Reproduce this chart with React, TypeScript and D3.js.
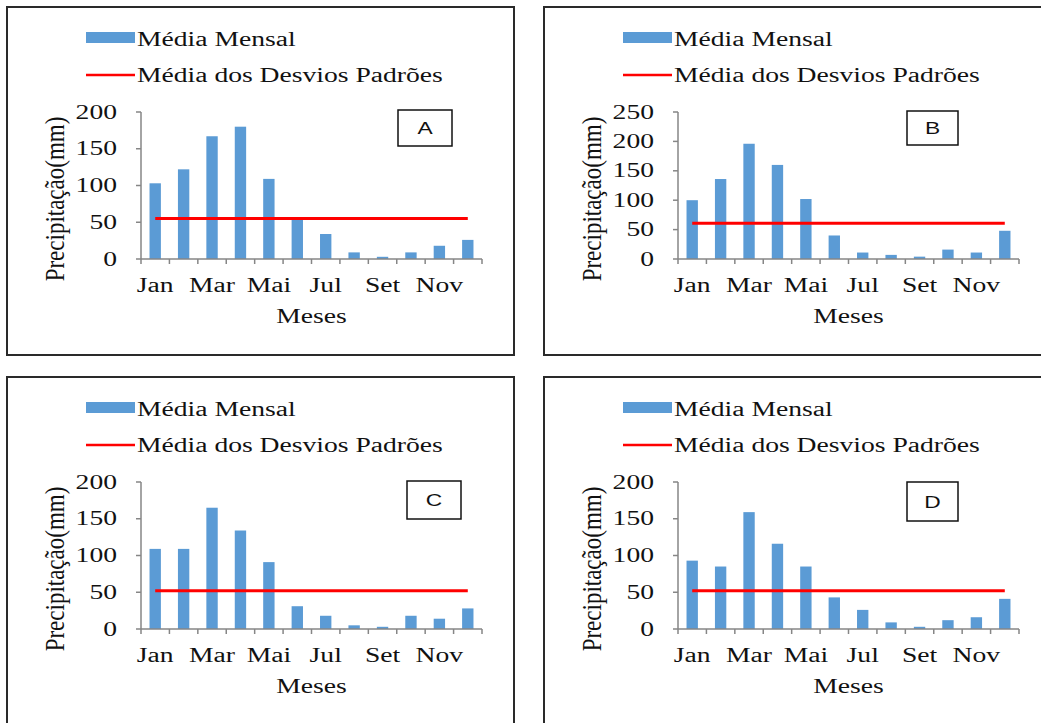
import React from "react";
import * as d3 from "d3";

// Monthly precipitation (mm) for four stations, with the mean of the standard deviations
const months = ["Jan", "Fev", "Mar", "Abr", "Mai", "Jun", "Jul", "Ago", "Set", "Out", "Nov", "Dez"];

const valuesA = [103, 122, 167, 180, 109, 55, 34, 9, 3, 9, 18, 26];
const valuesB = [100, 136, 196, 160, 102, 40, 11, 7, 4, 16, 11, 48];
const valuesC = [109, 109, 165, 134, 91, 31, 18, 5, 3, 18, 14, 28];
const valuesD = [93, 85, 159, 116, 85, 43, 26, 9, 3, 12, 16, 41];

const sdMeanA = 55;
const sdMeanB = 61;
const sdMeanC = 52;
const sdMeanD = 52;

const ticks200 = [0, 50, 100, 150, 200];
const ticks250 = [0, 50, 100, 150, 200, 250];

const shownMonths = ["Jan", "Mar", "Mai", "Jul", "Set", "Nov"];
const panelLabels = ["A", "B", "C", "D"];
const legendBars = "Média Mensal";
const legendLine = "Média dos Desvios Padrões";
const yTitle = "Precipitação(mm)";
const xTitle = "Meses";

const BAR = "#5b9bd5";
const RED = "#ff0000";
const AXIS = "#868686";
const SERIF = "Liberation Serif, Tinos, DejaVu Serif, serif";
const SANS = "Liberation Sans, Arial, sans-serif";
const SX = 1.38; // horizontal widening of the lettering

function WideText({ x, y, anchor = "start", size = 20, family = SERIF, children }: any) {
  return (
    <text
      transform={`translate(${x},${y}) scale(${SX},1)`}
      textAnchor={anchor}
      style={{ fontFamily: family, fontSize: size }}
      fill="#111"
    >
      {children}
    </text>
  );
}

function Panel({ ox, oy, values, sdMean, ticks, label, box }: any) {
  const yMax = ticks[ticks.length - 1];
  const x = d3
    .scaleBand<string>()
    .domain(months)
    .range([141 + ox, 482 + ox])
    .paddingInner(0.6)
    .paddingOuter(0.3);
  const step = x.step();
  const x0 = 141 + ox;
  const x1 = 482 + ox;
  const y = d3.scaleLinear().domain([0, yMax]).range([259 + oy, 112 + oy]);

  const lineGen = d3
    .line<number>()
    .x((_, i) => (x(months[i]) as number) + x.bandwidth() / 2)
    .y((d) => y(d));

  return (
    <g>
      <rect x={7 + ox} y={7 + oy} width={507} height={348} fill="none" stroke="#2a2a2a" strokeWidth={2} />

      {/* legend */}
      <rect x={86 + ox} y={32 + oy} width={49} height={11} fill={BAR} />
      <WideText x={137 + ox} y={46 + oy}>{legendBars}</WideText>
      <line x1={86 + ox} x2={135 + ox} y1={75 + oy} y2={75 + oy} stroke={RED} strokeWidth={2.5} />
      <WideText x={137 + ox} y={82 + oy}>{legendLine}</WideText>

      {/* bars */}
      {values.map((v: number, i: number) => (
        <rect
          key={i}
          x={x(months[i])}
          y={y(v)}
          width={x.bandwidth()}
          height={y(0) - y(v)}
          fill={BAR}
        />
      ))}

      {/* mean of standard deviations */}
      <path d={lineGen(months.map(() => sdMean)) || ""} fill="none" stroke={RED} strokeWidth={3} />

      {/* y axis */}
      <line x1={x0} x2={x0} y1={y(yMax)} y2={y(0)} stroke={AXIS} strokeWidth={1.5} />
      {ticks.map((t: number) => (
        <g key={t}>
          <line x1={x0 - 5} x2={x0} y1={y(t)} y2={y(t)} stroke={AXIS} strokeWidth={1.5} />
          <WideText x={117 + ox} y={y(t) + 6.5} anchor="end">{t}</WideText>
        </g>
      ))}

      {/* x axis */}
      <line x1={x0} x2={x1} y1={y(0)} y2={y(0)} stroke={AXIS} strokeWidth={1.5} />
      {d3.range(13).map((i) => (
        <line key={i} x1={x0 + i * step} x2={x0 + i * step} y1={y(0)} y2={y(0) + 5} stroke={AXIS} strokeWidth={1.5} />
      ))}
      {months.map((m) =>
        shownMonths.includes(m) ? (
          <WideText key={m} x={(x(m) as number) + x.bandwidth() / 2} y={292 + oy} anchor="middle">
            {m}
          </WideText>
        ) : null
      )}

      <WideText x={(x0 + x1) / 2} y={323 + oy} anchor="middle">{xTitle}</WideText>
      <text
        transform={`translate(${64 + ox},${199 + oy}) rotate(-90) scale(1.15,${SX})`}
        textAnchor="middle"
        style={{ fontFamily: SERIF, fontSize: 20 }}
        fill="#111"
      >
        {yTitle}
      </text>

      {/* panel letter */}
      <rect x={box[0] + ox} y={box[1] + oy} width={box[2]} height={box[3]} fill="#fff" stroke="#111" strokeWidth={1.5} />
      <WideText x={box[0] + ox + box[2] / 2} y={box[1] + oy + box[3] / 2 + 6} anchor="middle" size={16.5} family={SANS}>
        {label}
      </WideText>
    </g>
  );
}

export default function App() {
  return (
    <svg
      width={1041}
      height={723}
      style={{ position: "absolute", left: 0, top: 0, background: "#fff" }}
    >
      <rect width={1041} height={723} fill="#fff" />
      <Panel ox={0} oy={0} values={valuesA} sdMean={sdMeanA} ticks={ticks200} label={panelLabels[0]} box={[398, 110, 54, 36]} />
      <Panel ox={537} oy={0} values={valuesB} sdMean={sdMeanB} ticks={ticks250} label={panelLabels[1]} box={[370, 111, 51, 34]} />
      <Panel ox={0} oy={370} values={valuesC} sdMean={sdMeanC} ticks={ticks200} label={panelLabels[2]} box={[407, 111, 54, 38]} />
      <Panel ox={537} oy={370} values={valuesD} sdMean={sdMeanD} ticks={ticks200} label={panelLabels[3]} box={[370, 112, 51, 39]} />
    </svg>
  );
}
